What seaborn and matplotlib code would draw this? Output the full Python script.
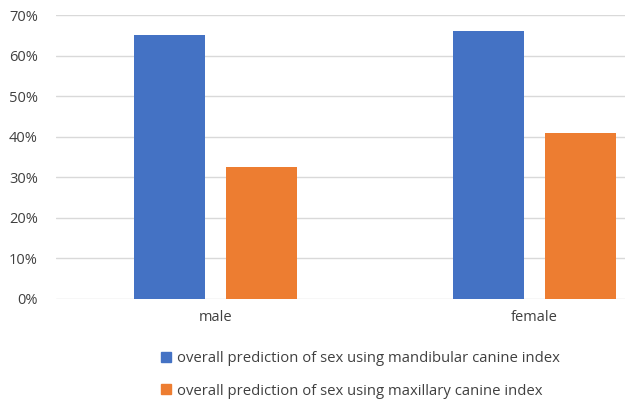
import matplotlib
matplotlib.use("Agg")
import matplotlib.pyplot as plt
import seaborn as sns
import pandas as pd
from matplotlib.lines import Line2D
from matplotlib.ticker import PercentFormatter

categories = ["male", "female"]
series_names = ["overall prediction of sex using mandibular canine index",
                "overall prediction of sex using maxillary canine index"]
mandibular = [65, 66]
maxillary = [32.5, 41]
colors = ["#4472C4", "#ED7D31"]

df = pd.DataFrame({
    "sex": categories * 2,
    "series": [series_names[0]] * 2 + [series_names[1]] * 2,
    "value": mandibular + maxillary,
})

sns.set_theme(style="white")
plt.rcParams['font.family'] = ['Open Sans', 'DejaVu Sans']

fig = plt.figure(figsize=(6.25, 4.0), dpi=100)
ax = fig.add_axes([56/625, 101/400, 638/625, 284/400])

sns.barplot(data=df, x="sex", y="value", hue="series", order=categories,
            hue_order=series_names, palette=colors, width=0.577, gap=0.227,
            saturation=1, ax=ax, legend=False, zorder=3, linewidth=0)

ax.set_xlim(-0.5, 1.5)
ax.set_ylim(0, 70)
ax.set_yticks(range(0, 71, 10))
ax.yaxis.set_major_formatter(PercentFormatter(decimals=0))
ax.grid(axis="y", color="#d9d9d9", linewidth=1, zorder=0)
ax.set_axisbelow(True)
for s in ax.spines.values():
    s.set_visible(False)
ax.tick_params(axis="both", length=0, labelsize=10.5, colors="#404040")
ax.tick_params(axis="y", pad=13)
ax.tick_params(axis="x", pad=8)
ax.set_xlabel("")
ax.set_ylabel("")

handles = [Line2D([], [], marker="s", linestyle="none", markersize=7,
                  markerfacecolor=c, markeredgecolor=c) for c in colors]
fig.legend(handles, series_names, loc="upper left",
           bbox_to_anchor=(153/625, 1 - 344/400), frameon=False,
           fontsize=10.7, labelspacing=1.15, handlelength=0.8,
           handletextpad=0.3, borderpad=0, labelcolor="#404040")

fig.savefig("out.png", dpi=100)
